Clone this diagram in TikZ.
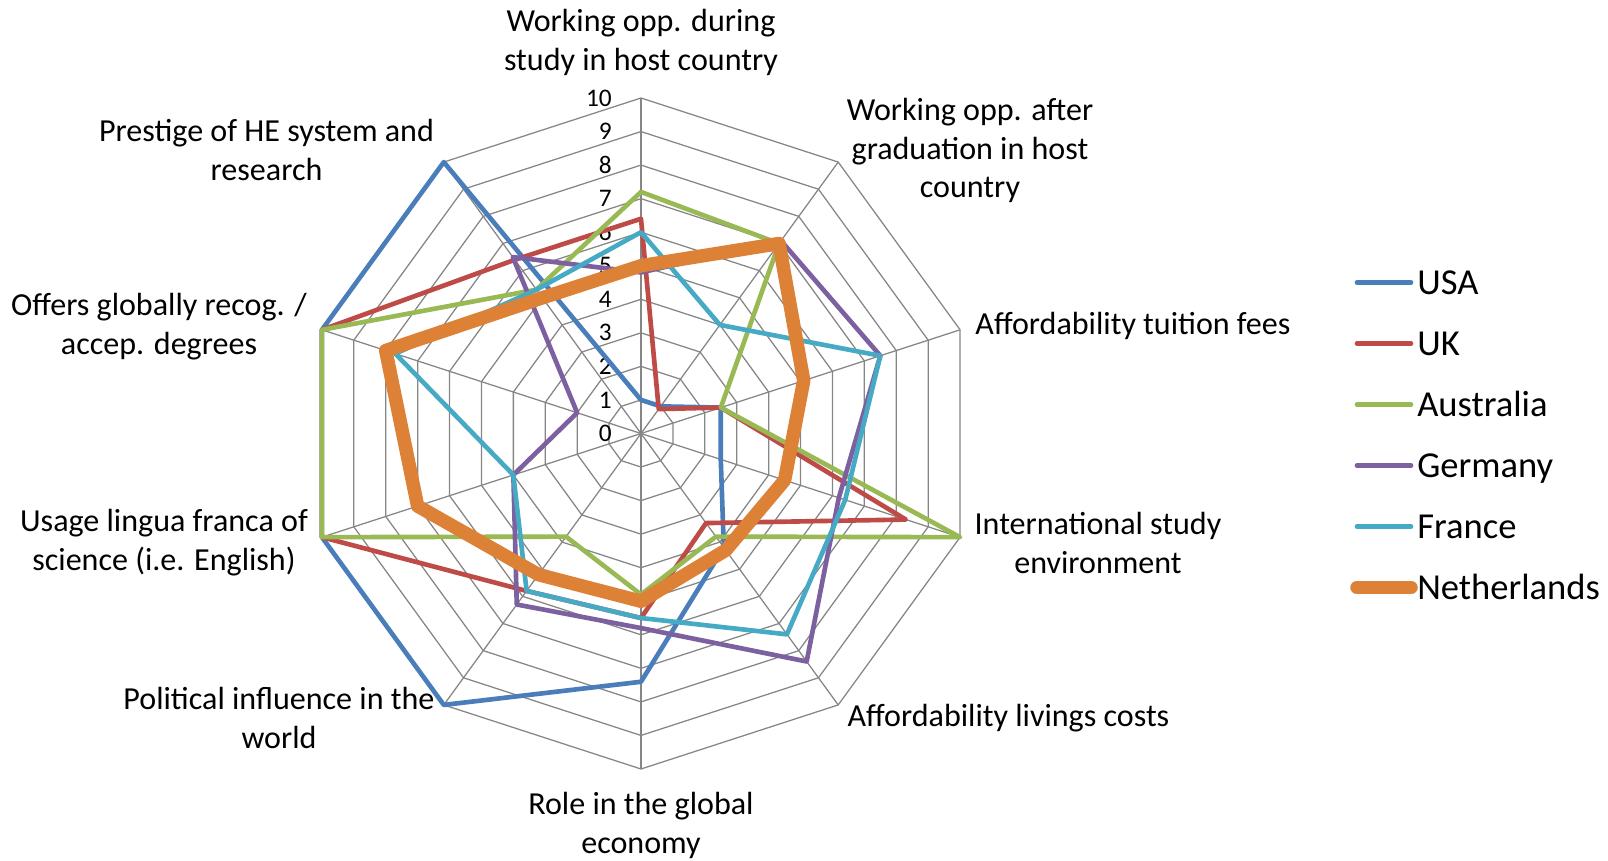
\documentclass[tikz,border=0pt]{standalone}
\usepackage{fontspec}
\setmainfont{Carlito}
\usepackage{xcolor}

\definecolor{usa}{HTML}{4A7EBB}
\definecolor{uk}{HTML}{BE4B48}
\definecolor{aus}{HTML}{98B954}
\definecolor{ger}{HTML}{7D60A0}
\definecolor{fra}{HTML}{46AAC5}
\definecolor{ned}{HTML}{DD8136}
\definecolor{gridgray}{HTML}{868686}

% one radar polygon: style, value on the top axis, the other nine values clockwise
\newcommand{\radarline}[3]{%
  \draw[#1] (90:#2*33.55) foreach \v [count=\i] in {#3} { -- (90-36*\i:\v*33.55) } -- cycle;}

\begin{document}
\begin{tikzpicture}[
  x=0.025cm, y=0.025cm,
  grid line/.style={draw=gridgray, line width=0.9pt},
  series/.style={line width=3.3pt, line join=round},
  thick series/.style={line width=9.6pt, line join=round},
  axis label/.style={font=\fontsize{22.8}{27.7}\selectfont, align=center, inner sep=0pt},
  tick label/.style={font=\fontsize{18}{20}\selectfont, anchor=east, inner sep=0pt},
  legend label/.style={font=\fontsize{26}{30}\selectfont, anchor=base west, inner sep=0pt}]
%\draw[help lines] (-641,-426) grid[step=100] (967,433);
\useasboundingbox (-641,-426.5) rectangle (967,433.5);

% web
\foreach \r in {1,...,10}
  \draw[grid line] (90:\r*33.55) foreach \a in {126,162,...,414} { -- (\a:\r*33.55) } -- cycle;
\foreach \a in {90,126,...,414}
  \draw[grid line] (0,0) -- (\a:335.5);

% scale
\foreach \t in {0,...,10}
  \node[tick label] (tick\t) at (-29,\t*33.55) {\t};

% countries
\radarline{series,usa}{1}{1,2.5,2.5,4.2,7.4,10,10,10,10}
\radarline{series,uk}{6.4}{0.9,2.5,8.3,3.3,5.5,5.8,10,10,6.4}
\radarline{series,aus}{7.2}{7,2.5,10,3.8,4.8,3.8,10,10,5.3}
\radarline{series,ger}{4.8}{7.1,7.5,6.2,8.4,5.8,6.3,4,2,6.5}
\radarline{series,fra}{6}{4,7.5,6.4,7.4,5.5,5.8,4,7.7,5.3}
\radarline{thick series,ned}{5}{7,5.1,4.5,4.3,5,5.2,7,8,5}

% axis names
\node[axis label] (work-during) at (0,391) {Working opp. during\\study in host country};
\node[axis label] (work-after) at (329,283) {Working opp. after\\graduation in host\\country};
\node[axis label] (tuition) at (492,107.5) {Affordability tuition fees};
\node[axis label] (intl) at (457,-109.5) {International study\\environment};
\node[axis label] (living) at (367.5,-284.5) {Affordability livings costs};
\node[axis label] (economy) at (0,-392) {Role in the global\\economy};
\node[axis label] (political) at (-362,-284.5) {Political influence in the\\world};
\node[axis label] (lingua) at (-477,-109.5) {Usage lingua franca of\\science (i.e. English)};
\node[axis label] (degrees) at (-482,107) {Offers globally recog. /\\accep. degrees};
\node[axis label] (prestige) at (-374.5,283.5) {Prestige of HE system and\\research};

% legend
\foreach \name/\col/\w [count=\k] in {USA/usa/series, UK/uk/series, Australia/aus/series,
    Germany/ger/series, France/fra/series, Netherlands/ned/thick series} {
  \coordinate (key\k) at (716,212-61*\k);
  \node[legend label] (leg\k) at (776,200.3-61*\k) {\name};
  \draw[\w,\col,line cap=round] (key\k) -- ++(54,0);
}
\end{tikzpicture}
\end{document}
